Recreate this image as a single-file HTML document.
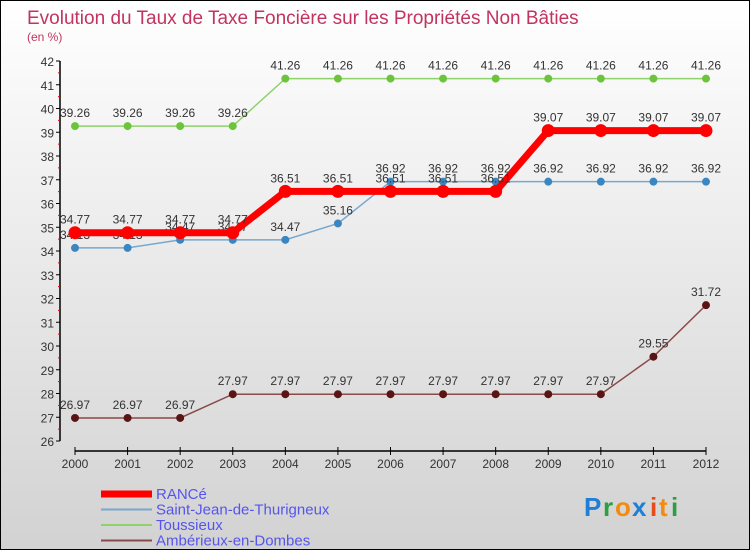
<!DOCTYPE html>
<html><head><meta charset="utf-8"><style>
html,body{margin:0;padding:0}
body{width:750px;height:550px;overflow:hidden;font-family:"Liberation Sans",sans-serif}
#wrap{position:relative;width:748px;height:548px;border:1px solid #000;background:linear-gradient(#ffffff,#d2d2d2)}
svg text{font-family:"Liberation Sans",sans-serif}
</style></head><body>
<div id="wrap">
<svg id="chart" width="748" height="548">
<text x="26" y="23" font-size="19" fill="#c2345f">Evolution du Taux de Taxe Foncière sur les Propriétés Non Bâties</text>
<text x="26" y="40" font-size="12" fill="#c2345f">(en %)</text>
<g id="axes"></g><g id="series"></g><g id="legend"></g>
<g font-size="26" font-weight="bold">
<text x="583" y="515" fill="#1f7fd6">P</text><text x="602" y="515" fill="#2aa040">r</text><text x="614" y="515" fill="#f28c10">o</text><text x="631" y="515" fill="#1f7fd6">x</text><text x="649" y="515" fill="#e84a1a">i</text><text x="658" y="515" fill="#f28c10">t</text><text x="670" y="515" fill="#2aa040">i</text>
</g>
</svg></div>
<script>
const years=[2000,2001,2002,2003,2004,2005,2006,2007,2008,2009,2010,2011,2012];
const yTicks=[26,27,28,29,30,31,32,33,34,35,36,37,38,39,40,41,42];
const rance=[34.77,34.77,34.77,34.77,36.51,36.51,36.51,36.51,36.51,39.07,39.07,39.07,39.07];
const saintJean=[34.13,34.13,34.47,34.47,34.47,35.16,36.92,36.92,36.92,36.92,36.92,36.92,36.92];
const toussieux=[39.26,39.26,39.26,39.26,41.26,41.26,41.26,41.26,41.26,41.26,41.26,41.26,41.26];
const amberieux=[26.97,26.97,26.97,27.97,27.97,27.97,27.97,27.97,27.97,27.97,27.97,29.55,31.72];
const names=["RANCé","Saint-Jean-de-Thurigneux","Toussieux","Ambérieux-en-Dombes"];
const NS="http://www.w3.org/2000/svg";
const X=i=>74+i*(705-74)/(years.length-1);
const Y=v=>440-(v-26)*(380/16);
function mk(t,a,p){const e=document.createElementNS(NS,t);for(const k in a)e.setAttribute(k,a[k]);p.appendChild(e);return e;}
const ax=document.getElementById('axes');
let yl=mk('line',{x1:59,y1:Y(42),x2:59,y2:Y(26),stroke:'#000','stroke-width':1.5},ax);


yTicks.forEach(v=>{
 let t=mk('line',{x1:55,y1:Y(v),x2:59,y2:Y(v),stroke:'#000'},ax);
 
 
 if(v<42){let h=mk('line',{x1:57,y1:Y(v+0.5),x2:59,y2:Y(v+0.5),stroke:'#e00'},ax);
 
 }
 let l=mk('text',{x:53,y:Y(v)+5,'text-anchor':'end','font-size':12,fill:'#333'},ax);
 l.textContent=v;
 
 
});
let xl=mk('line',{x1:74,y1:450,x2:705,y2:450,stroke:'#000','stroke-width':1.5},ax);


years.forEach((yr,i)=>{
 let t=mk('line',{x1:X(i),y1:446,x2:X(i),y2:454,stroke:'#000'},ax);
 
 
 let l=mk('text',{x:X(i),y:467,'text-anchor':'middle','font-size':12,fill:'#333'},ax);
 l.textContent=yr;
 
 
});
const sg=document.getElementById('series');
const defs=[[toussieux,'#8fd16a','#6cc43c',1.5,4,'toussieux'],[saintJean,'#79a8cc','#3b86c0',1.5,4,'saint-jean'],[amberieux,'#8a4a4a','#5a1414',1.5,4,'amberieux'],[rance,'#ff0000','#ff0000',7,6.5,'rance']];
defs.forEach(([d,lc,pc,w,r,n])=>{
 let p=mk('polyline',{points:d.map((v,i)=>X(i)+','+Y(v)).join(' '),fill:'none',stroke:lc,'stroke-width':w},sg);
 
 
 d.forEach((v,i)=>{
  let c=mk('circle',{cx:X(i),cy:Y(v),r:r,fill:pc},sg);
  
  
  let l=mk('text',{x:X(i),y:Y(v)-9,'text-anchor':'middle','font-size':12,fill:'#333'},sg);
  l.textContent=v.toFixed(2);
  
  
 });
});
const lg=document.getElementById('legend');
const lcols=['#ff0000','#79a8cc','#8fd16a','#8a4a4a'],lw=[7,2,2,2];
names.forEach((n,i)=>{
 const y=493+i*15.5;
 let s=mk('line',{x1:100,y1:y,x2:151,y2:y,stroke:lcols[i],'stroke-width':lw[i]},lg);
 
 
 let t=mk('text',{x:155,y:y+5,'font-size':15,fill:'#5555ee'},lg);
 t.textContent=n;
 
 
});
</script>
</body></html>
